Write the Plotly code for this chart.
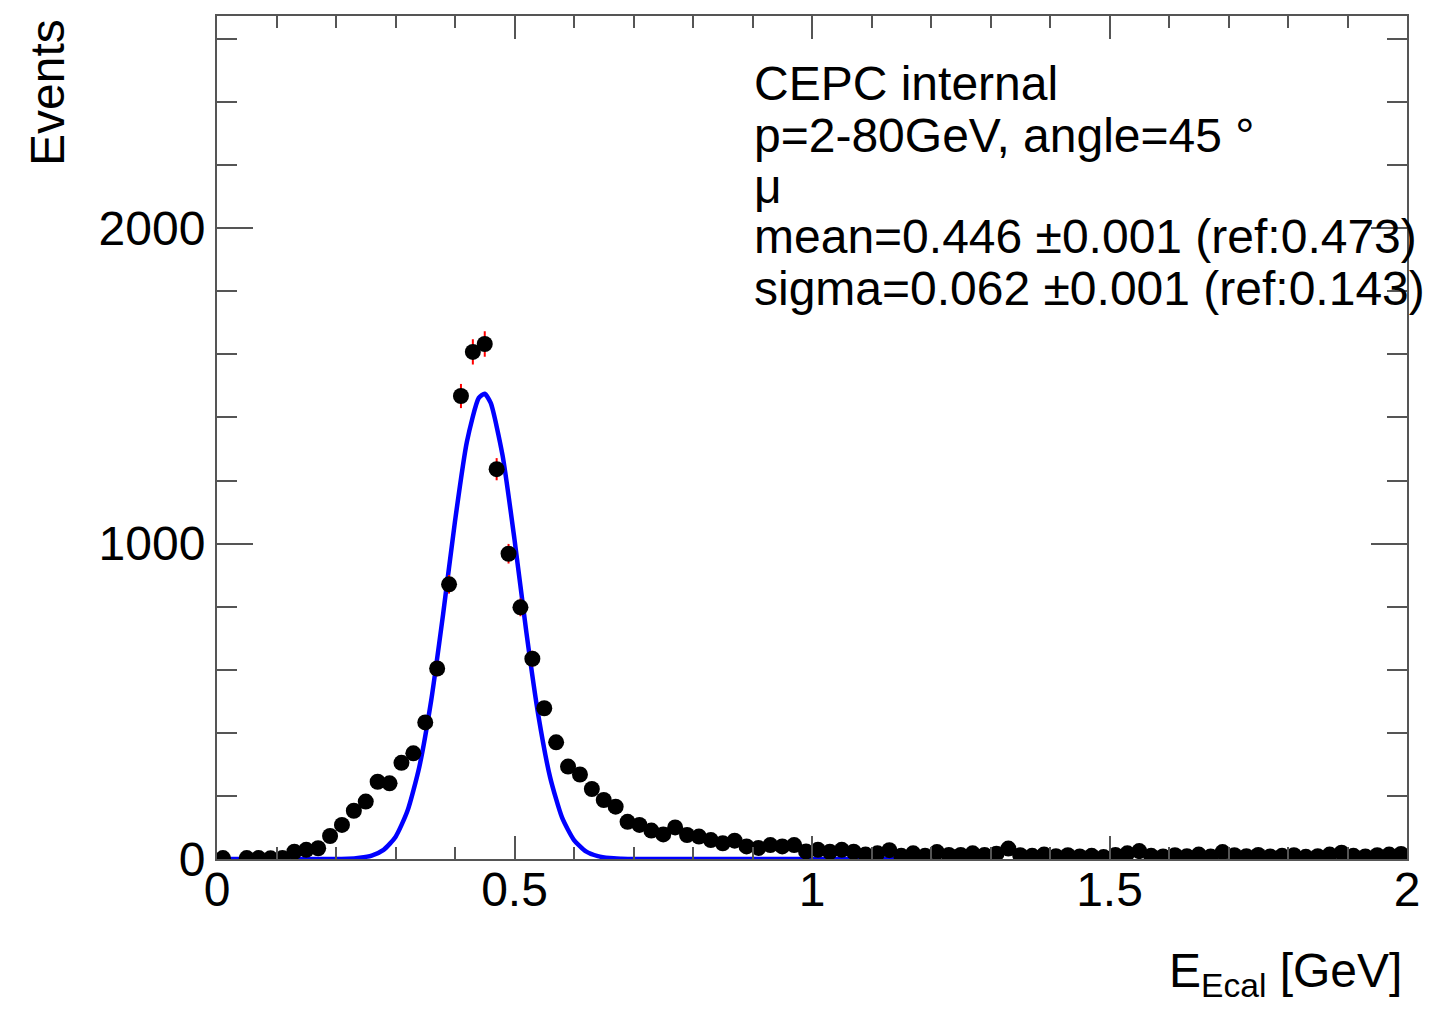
import numpy as np
import plotly.graph_objects as go

# ---- data ----
bin_centers = [round(0.01 + 0.02 * i, 2) for i in range(100)]
counts = [
    3, None, 3, 3, 2, 3, 23, 29, 34, 73,
    108, 153, 182, 245, 240, 305, 335, 433, 604, 871,
    1468, 1608, 1633, 1236, 968, 798, 635, 478, 370, 293,
    268, 222, 187, 166, 118, 108, 90, 78, 100, 76,
    71, 60, 50, 58, 40, 35, 44, 40, 44, 24,
    29, 23, 29, 23, 14, 18, 28, 10, 18, 10,
    22, 13, 13, 18, 13, 17, 33, 12, 10, 14,
    9, 12, 8, 10, 6, 13, 18, 25, 10, 8,
    12, 9, 14, 8, 22, 12, 9, 13, 8, 10,
    12, 7, 9, 14, 20, 10, 8, 12, 14, 16,
]
fit_x = [0.0, 0.20, 0.22, 0.24, 0.26, 0.28, 0.30, 0.32, 0.34, 0.36, 0.38, 0.40,
         0.42, 0.44, 0.45, 0.46, 0.48, 0.50, 0.52, 0.54, 0.56, 0.58, 0.60, 0.62,
         0.64, 0.66, 0.68, 0.70, 1.15]
fit_y = [0, 0, 0.5, 4, 11, 29, 70, 152, 292, 503, 776, 1071,
         1323, 1462, 1475, 1446, 1279, 1013, 718, 456, 258, 131, 60, 24,
         9, 3, 1, 0, 0]
info_lines = [
    "CEPC internal",
    "p=2-80GeV, angle=45 °",
    "μ",
    "mean=0.446 ±0.001 (ref:0.473)",
    "sigma=0.062 ±0.001 (ref:0.143)",
]
x_ticks = [0, 0.5, 1, 1.5, 2]
x_ticktext = ["0", "0.5", "1", "1.5", "2"]
y_ticks = [0, 1000, 2000]
y_ticktext = ["0", "1000", "2000"]

errs = [None if c is None else float(np.sqrt(c)) for c in counts]

FONT = "Liberation Sans, Arial, Helvetica, sans-serif"
FS = 48
# page has an 8px body margin; figure sized so that it fits the 1434x1009 window
OFF = 8
W, H = 1434 - 2 * OFF, 1009 - 2 * OFF
# plot area in page pixels: x 217..1408, y 14..859
L = 217 - OFF
T = 14 - OFF
R = W - (1408 - OFF)
B = H - (859 - OFF)
PW, PH = W - L - R, H - T - B

def px_x(px):
    return (px - OFF - L) / PW

def px_y(py):
    return (H - B - (py - OFF)) / PH

fig = go.Figure()
fig.add_trace(go.Scatter(
    x=fit_x, y=fit_y, mode="lines",
    line=dict(color="#0000ff", width=4.5, shape="spline", smoothing=0.6),
    hoverinfo="skip", showlegend=False,
))
fig.add_trace(go.Scatter(
    x=bin_centers, y=counts, mode="markers",
    marker=dict(color="black", size=16),
    error_y=dict(type="data", array=errs, color="red", thickness=2, width=0),
    showlegend=False,
))

axis_col = "#555555"
fig.update_xaxes(
    range=[0, 2], tickmode="array", tickvals=x_ticks, ticktext=x_ticktext,
    ticks="inside", ticklen=23, tickwidth=2, tickcolor=axis_col,
    minor=dict(dtick=0.1, tick0=0, ticks="inside", ticklen=12, tickwidth=2, tickcolor=axis_col),
    showline=True, linecolor=axis_col, linewidth=2, mirror="allticks",
    showgrid=False, zeroline=False, ticklabelstandoff=-13,
    tickfont=dict(family=FONT, size=FS, color="black"),
)
fig.update_yaxes(
    range=[0, 2673], tickmode="array", tickvals=y_ticks, ticktext=y_ticktext,
    ticks="inside", ticklen=36, tickwidth=2, tickcolor=axis_col,
    minor=dict(dtick=200, tick0=0, ticks="inside", ticklen=20, tickwidth=2, tickcolor=axis_col),
    showline=True, linecolor=axis_col, linewidth=2, mirror="allticks",
    showgrid=False, zeroline=False,
    tickfont=dict(family=FONT, size=FS, color="black"),
)

annotations = []
line_y = [82, 134, 185, 235, 287]
for txt, ly in zip(info_lines, line_y):
    annotations.append(dict(
        text=txt, xref="paper", yref="paper", x=px_x(752), y=px_y(ly),
        xanchor="left", yanchor="middle", showarrow=False,
        font=dict(family=FONT, size=FS, color="black"),
    ))
annotations.append(dict(
    text="Events", xref="paper", yref="paper", x=px_x(48), y=px_y(91),
    xanchor="center", yanchor="middle", textangle=-90, showarrow=False,
    font=dict(family=FONT, size=FS, color="black"),
))
annotations.append(dict(
    text="E<sub>Ecal</sub> [GeV]", xref="paper", yref="paper", x=px_x(1405), y=px_y(974),
    xanchor="right", yanchor="middle", showarrow=False,
    font=dict(family=FONT, size=FS, color="black"),
))

fig.update_layout(
    width=W, height=H, autosize=False,
    margin=dict(l=L, r=R, t=T, b=B, pad=0),
    plot_bgcolor="white", paper_bgcolor="white",
    annotations=annotations,
    showlegend=False,
)

fig.write_html("out.html")
